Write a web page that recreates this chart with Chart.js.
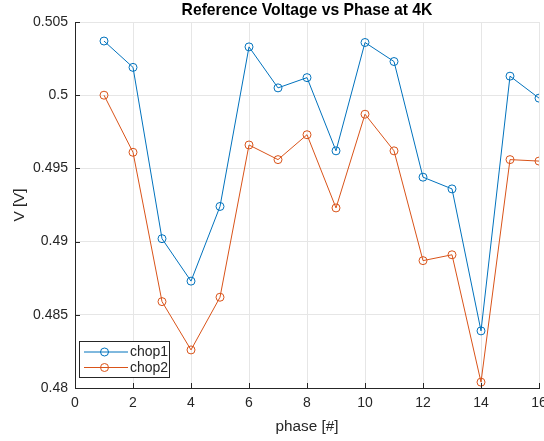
<!DOCTYPE html>
<html>
<head>
<meta charset="utf-8">
<script src="https://cdn.jsdelivr.net/npm/chart.js@4"></script>
<style>
html,body{margin:0;padding:0;background:#fff;}
#wrap{width:544px;height:441px;position:relative;}
</style>
</head>
<body>
<div id="wrap"><canvas id="c" width="544" height="441"></canvas></div>
<script>
const phases = [1,2,3,4,5,6,7,8,9,10,11,12,13,14,15,16];
const chop1 = [0.5037,0.5019,0.4902,0.4873,0.4924,0.5033,0.5005,0.5012,0.4962,0.5036,0.5023,0.4944,0.4936,0.4839,0.5013,0.4998];
const chop2 = [0.5000,0.4961,0.4859,0.4826,0.4862,0.4966,0.4956,0.4973,0.4923,0.4987,0.4962,0.4887,0.4891,0.4804,0.4956,0.4955];
const seriesNames = ['chop1','chop2'];
const titleText = 'Reference Voltage vs Phase at 4K';
const xLabel = 'phase [#]';
const yLabel = 'V [V]';

const BLUE = 'rgb(0,114,189)';
const ORANGE = 'rgb(217,83,25)';
const AXC = '#262626';
const FONT = '"Liberation Sans", Arial, Helvetica, sans-serif';

const toXY = arr => arr.map((v,i)=>({x:phases[i], y:v}));

const deco = {
  id:'deco',
  afterDatasetsDraw(chart){
    const ctx = chart.ctx, a = chart.chartArea;
    const xs = chart.scales.x, ys = chart.scales.y;
    ctx.save();
    // inward ticks
    ctx.strokeStyle = AXC; ctx.lineWidth = 1;
    ctx.beginPath();
    xs.ticks.forEach(t=>{const px=Math.round(xs.getPixelForValue(t.value))+0.5; ctx.moveTo(px,a.bottom); ctx.lineTo(px,a.bottom-5);});
    ys.ticks.forEach(t=>{const py=Math.round(ys.getPixelForValue(t.value))+0.5; ctx.moveTo(a.left,py); ctx.lineTo(a.left+5,py);});
    ctx.stroke();
    // legend
    const lx=79.5, ly=341.5, lw=90, lh=36;
    ctx.fillStyle='#fff'; ctx.fillRect(lx,ly,lw,lh);
    ctx.strokeStyle=AXC; ctx.strokeRect(lx,ly,lw,lh);
    const cols=[BLUE,ORANGE];
    ctx.font='14px '+FONT; ctx.textBaseline='middle'; ctx.textAlign='left';
    [352,367.5].forEach((yy,i)=>{
      ctx.strokeStyle=cols[i]; ctx.lineWidth=1;
      ctx.beginPath(); ctx.moveTo(84,yy); ctx.lineTo(128,yy); ctx.stroke();
      ctx.beginPath(); ctx.arc(104.5,yy,4,0,Math.PI*2); ctx.stroke();
      ctx.fillStyle=AXC; ctx.fillText(seriesNames[i],130,yy+0.5);
    });
    // title
    ctx.fillStyle='#000'; ctx.font='bold 15.7px '+FONT; ctx.textAlign='center';
    ctx.fillText(titleText,(a.left+a.right)/2,11);
    ctx.restore();
  }
};

new Chart(document.getElementById('c'),{
  type:'line',
  data:{datasets:[
    {label:seriesNames[0],data:toXY(chop1),borderColor:BLUE,borderWidth:1,pointStyle:'circle',pointRadius:4,pointBorderWidth:1,pointBackgroundColor:'rgba(0,0,0,0)',pointBorderColor:BLUE,tension:0,fill:false},
    {label:seriesNames[1],data:toXY(chop2),borderColor:ORANGE,borderWidth:1,pointStyle:'circle',pointRadius:4,pointBorderWidth:1,pointBackgroundColor:'rgba(0,0,0,0)',pointBorderColor:ORANGE,tension:0,fill:false}
  ]},
  options:{
    responsive:false,animation:false,
    layout:{padding:{top:22,right:5,left:0,bottom:0}},
    plugins:{legend:{display:false},title:{display:false},tooltip:{enabled:false}},
    scales:{
      x:{type:'linear',min:0,max:16,
        ticks:{stepSize:2,color:AXC,font:{family:FONT,size:14},padding:7,maxRotation:0,autoSkip:false},
        grid:{color:'#e6e6e6',drawTicks:false},
        border:{display:true,color:AXC,width:1},
        title:{display:true,text:xLabel,color:AXC,font:{family:FONT,size:15.3},padding:{top:0,bottom:5}},
        afterFit(s){s.height=53;s.paddingLeft=0;s.paddingRight=0;}
      },
      y:{type:'linear',min:0.48,max:0.505,
        ticks:{stepSize:0.005,color:AXC,font:{family:FONT,size:14},padding:7,callback:v=>String(Number(v.toFixed(3)))},
        grid:{color:'#e6e6e6',drawTicks:false},
        border:{display:true,color:AXC,width:1},
        title:{display:true,text:yLabel,color:AXC,font:{family:FONT,size:15.3},padding:{top:11,bottom:0}},
        afterFit(s){s.width=75;s.paddingTop=0;s.paddingBottom=0;}
      }
    }
  },
  plugins:[deco]
});
</script>
</body>
</html>
